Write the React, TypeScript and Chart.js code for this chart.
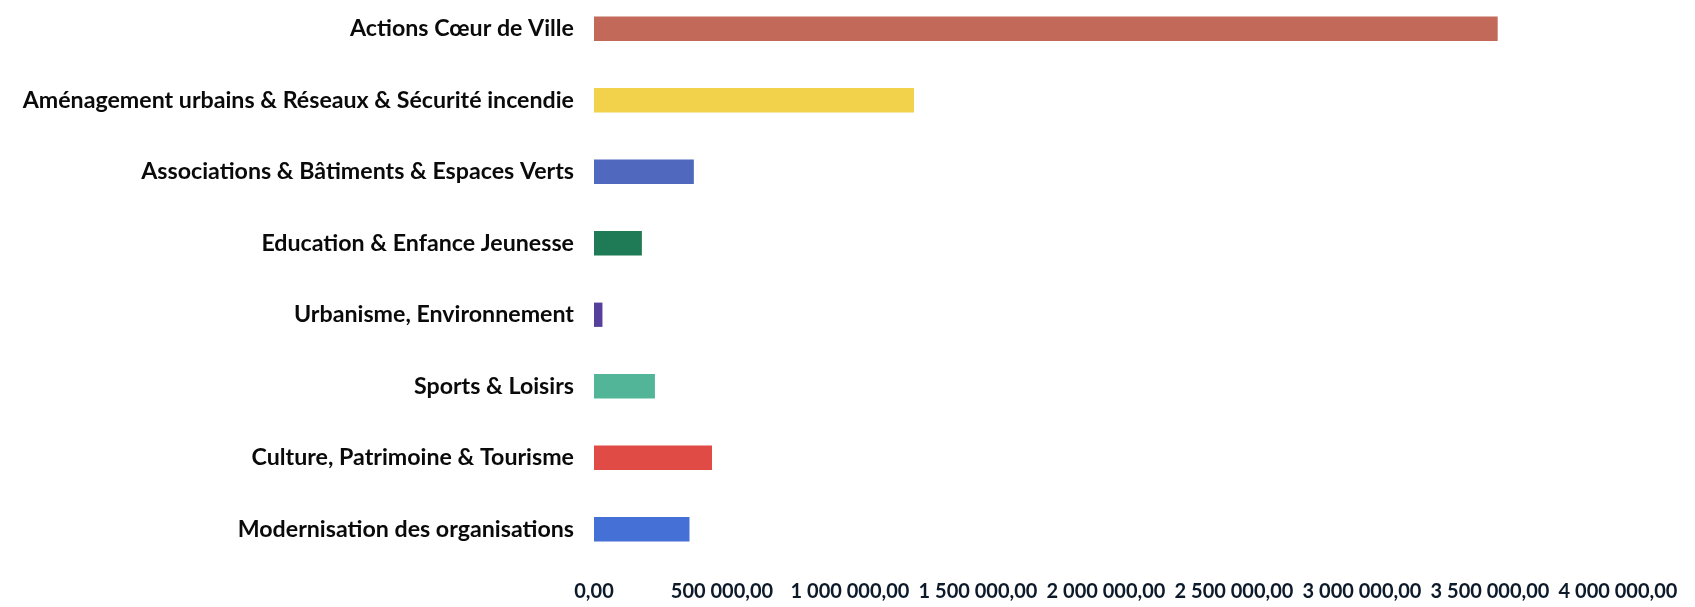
import React, { useEffect, useRef } from "react";
import { Chart, registerables } from "chart.js";

Chart.register(...registerables);

const categories: string[] = [
  "Actions Cœur de Ville",
  "Aménagement urbains & Réseaux & Sécurité incendie",
  "Associations & Bâtiments & Espaces Verts",
  "Education & Enfance Jeunesse",
  "Urbanisme, Environnement",
  "Sports & Loisirs",
  "Culture, Patrimoine & Tourisme",
  "Modernisation des organisations",
];

const amounts: number[] = [3530000, 1250000, 390000, 187000, 33000, 238000, 461000, 373000];

const barColors: string[] = [
  "#C2695A",
  "#F3D24B",
  "#5069BE",
  "#1F7A56",
  "#56409C",
  "#52B597",
  "#E14B46",
  "#4571D6",
];

const axisMin = 0;
const axisMax = 4000000;
const axisStep = 500000;

function formatFr(v: number): string {
  const fixed = Math.abs(v).toFixed(2);
  const [intPart, dec] = fixed.split(".");
  const grouped = intPart.replace(/\B(?=(\d{3})+(?!\d))/g, " ");
  return (v < 0 ? "-" : "") + grouped + "," + dec;
}

export default function App() {
  const canvasRef = useRef<HTMLCanvasElement | null>(null);

  useEffect(() => {
    const canvas = canvasRef.current;
    if (!canvas) return;
    const chart = new Chart(canvas, {
      type: "bar",
      data: {
        labels: categories,
        datasets: [
          {
            data: amounts,
            backgroundColor: barColors,
            borderWidth: 0,
            barPercentage: 0.34,
            categoryPercentage: 1,
          },
        ],
      },
      options: {
        indexAxis: "y",
        animation: false,
        responsive: false,
        maintainAspectRatio: false,
        layout: { padding: { left: 0, right: 77, top: 3, bottom: 4 } },
        plugins: {
          legend: { display: false },
          tooltip: { enabled: false },
        },
        scales: {
          x: {
            type: "linear",
            min: axisMin,
            max: axisMax,
            grid: { display: false, drawTicks: false },
            border: { display: false },
            afterFit: (scale: any) => {
              scale.height = 38;
              scale.paddingLeft = 0;
              scale.paddingRight = 0;
            },
            ticks: {
              stepSize: axisStep,
              padding: 15,
              color: "#0c1a2a",
              font: { family: "Lato", weight: "bold", size: 20 },
              callback: (v: any) => formatFr(Number(v)),
              maxRotation: 0,
              autoSkip: false,
            },
          },
          y: {
            grid: { display: false, drawTicks: false },
            border: { display: false },
            afterFit: (scale: any) => {
              scale.width = 594;
              scale.paddingTop = 0;
              scale.paddingBottom = 0;
            },
            ticks: {
              padding: 20,
              color: "#0a0a0a",
              font: { family: "Lato", weight: "bold", size: 23.2 },
              autoSkip: false,
            },
          },
        },
      },
    });
    return () => chart.destroy();
  }, []);

  return (
    <div style={{ position: "fixed", left: 0, top: -10, width: 1695, height: 617, background: "#ffffff" }}>
      <canvas ref={canvasRef} width={1695} height={617} style={{ width: 1695, height: 617, display: "block" }} />
    </div>
  );
}
